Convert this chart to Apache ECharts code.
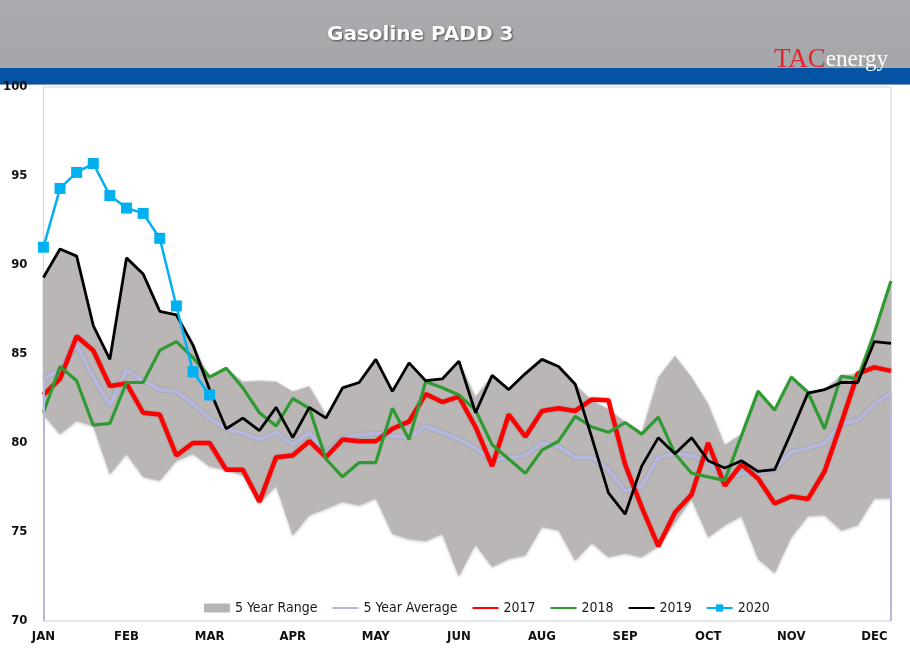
<!DOCTYPE html>
<html>
<head>
<meta charset="utf-8">
<script src="https://cdn.jsdelivr.net/npm/echarts@6/dist/echarts.min.js"></script>
<style>
  html, body { margin: 0; padding: 0; background: #fff; }
  #chart { width: 910px; height: 659px; }
</style>
</head>
<body>
<div id="chart"></div>
<script>
// ---- data ----
const monthLabels = ['JAN','FEB','MAR','APR','MAY','JUN','AUG','SEP','OCT','NOV','DEC'];
const weeks = Array.from({length: 52}, (_, i) => 'W' + (i + 1));

const rangeUpper = [89.3,90.9,90.5,86.6,84.7,90.4,89.5,87.4,87.2,85.5,83.7,84.2,83.45,83.5,83.45,82.9,83.2,81.6,83.1,83.45,
  84.7,82.95,84.5,83.5,83.6,84.6,82.6,83.8,83.0,83.9,84.7,84.3,83.3,82.4,81.9,81.2,80.6,83.7,84.9,83.7,
  82.2,79.9,80.5,83.0,81.9,83.8,82.9,83.0,83.8,83.9,86.2,89.1];
const rangeLower = [81.6,80.5,81.25,80.95,78.25,79.4,78.1,77.9,79.0,79.4,78.7,78.5,78.2,76.6,77.6,74.8,75.95,76.3,76.7,76.5,
  76.9,74.9,74.6,74.5,74.9,72.5,74.3,73.05,73.5,73.7,75.3,75.1,73.4,74.4,73.6,73.8,73.6,74.2,75.5,76.85,
  74.7,75.4,75.9,73.5,72.7,74.7,75.9,75.95,75.1,75.4,76.9,76.9];
const avg5 = [83.6,84.1,85.5,83.7,82.1,84.1,83.5,83.0,82.9,82.2,81.4,80.8,80.55,80.2,80.6,79.9,80.6,79.4,80.3,80.45,
  80.55,80.4,80.3,80.95,80.6,80.2,79.7,79.05,79.15,79.3,80.0,79.8,79.2,79.2,78.5,77.3,77.55,79.2,79.4,79.3,
  78.9,78.0,78.3,78.3,78.5,79.5,79.7,80.0,81.1,81.25,82.2,82.8];
const y2017 = [82.7,83.6,86.0,85.2,83.2,83.35,81.7,81.6,79.3,80.0,80.0,78.5,78.5,76.7,79.2,79.3,80.1,79.2,80.2,80.1,
  80.1,80.8,81.2,82.75,82.3,82.6,80.9,78.7,81.6,80.35,81.8,81.95,81.8,82.45,82.4,78.8,76.4,74.2,76.1,77.1,
  80.0,77.6,78.8,78.0,76.6,77.0,76.85,78.4,81.1,83.9,84.25,84.05];
const y2018 = [81.7,84.3,83.5,81.0,81.1,83.4,83.4,85.2,85.7,84.8,83.7,84.2,83.1,81.7,80.95,82.5,81.95,79.1,78.1,78.9,
  78.9,81.95,80.2,83.45,83.1,82.7,81.85,79.9,79.1,78.3,79.6,80.1,81.5,80.9,80.6,81.15,80.5,81.45,79.4,78.3,
  78.1,77.9,80.4,82.9,81.85,83.7,82.85,80.8,83.75,83.6,86.2,89.1];
const y2019 = [89.3,90.9,90.5,86.6,84.7,90.4,89.5,87.4,87.2,85.5,83.0,80.8,81.4,80.7,82.0,80.3,82.0,81.4,83.1,83.4,
  84.7,82.9,84.5,83.5,83.6,84.6,81.7,83.8,83.0,83.9,84.7,84.3,83.3,80.3,77.2,76.0,78.7,80.3,79.4,80.3,
  79.0,78.6,79.0,78.4,78.5,80.6,82.8,83.0,83.4,83.4,85.7,85.6];
const y2020 = [91.0,94.3,95.2,95.7,93.9,93.2,92.9,91.5,87.7,84.0,82.7];

// ---- chart ----
const rangeSpan = rangeUpper.map((u, i) => +(u - rangeLower[i]).toFixed(2));
const narrow = "'Liberation Sans Narrow', 'Arial Narrow', 'DejaVu Sans Condensed', sans-serif";
const chart = echarts.init(document.getElementById('chart'), null, {renderer: 'canvas'});
const lineOnly = { itemStyle: { opacity: 0 } };

const option = {
  backgroundColor: '#ffffff',
  animation: false,
  graphic: [
    { type: 'rect', left: 0, top: 0, z: -1, shape: { width: 910, height: 68 },
      style: { fill: new echarts.graphic.LinearGradient(0, 0, 0, 1, [
        { offset: 0, color: '#a9abae' }, { offset: 1, color: '#a4a6a9' }]) } },
    { type: 'rect', left: 0, top: 68, z: -1, shape: { width: 910, height: 16 }, style: { fill: '#0553a3' } },
    { type: 'rect', left: 0, top: 84, z: -1, shape: { width: 910, height: 1 }, style: { fill: '#7d97bf' } },
    { type: 'text', left: 327, top: 25, style: {
        text: 'Gasoline PADD 3', fill: '#ffffff', font: "bold 20px 'DejaVu Sans', sans-serif",
        textShadowColor: 'rgba(0,0,0,0.55)', textShadowBlur: 2, textShadowOffsetX: 1, textShadowOffsetY: 1 } },
    { type: 'text', left: 774, top: 46, style: {
        text: '{a|TAC}{b|energy}',
        rich: {
          a: { fill: '#e3262b', font: "27px 'Liberation Serif', serif" },
          b: { fill: '#ffffff', font: "23px 'Liberation Serif', serif" }
        } } }
  ],
  grid: { left: 42, right: 19, top: 87, bottom: 38, show: true, borderColor: '#ccd2de', borderWidth: 1 },
  legend: {
    left: 199, top: 596, itemWidth: 26, itemHeight: 9, itemGap: 14,
    textStyle: { fontFamily: narrow, fontSize: 14, color: '#1a1a1a' },
    data: [
      { name: '5 Year Range', icon: 'rect' },
      Object.assign({ name: '5 Year Average' }, lineOnly),
      Object.assign({ name: '2017' }, lineOnly),
      Object.assign({ name: '2018' }, lineOnly),
      Object.assign({ name: '2019' }, lineOnly),
      { name: '2020' }
    ]
  },
  xAxis: {
    type: 'category', data: weeks, boundaryGap: false,
    axisLine: { show: false }, axisTick: { show: false }, splitLine: { show: false },
    axisLabel: {
      interval: 4, margin: 9,
      formatter: (v, idx) => monthLabels[idx / 5] || '',
      fontFamily: narrow, fontWeight: 'bold', fontSize: 13, color: '#111'
    }
  },
  yAxis: {
    type: 'value', min: 70, max: 100, interval: 5,
    axisLine: { show: false }, axisTick: { show: false }, splitLine: { show: false },
    axisLabel: { margin: 16, fontFamily: narrow, fontWeight: 'bold', fontSize: 13, color: '#111' }
  },
  series: [
    { name: 'rangeBase', type: 'line', stack: 'range', data: rangeLower, symbol: 'none', silent: true,
      lineStyle: { width: 0, opacity: 0 }, z: 1 },
    { name: '5 Year Range', type: 'line', stack: 'range', data: rangeSpan, symbol: 'none', silent: true,
      itemStyle: { color: '#b9b5b5' },
      lineStyle: { width: 1, color: '#d9d6d6' },
      areaStyle: { color: '#bab6b6', opacity: 1, shadowColor: 'rgba(0,0,0,0.25)', shadowBlur: 3, shadowOffsetY: 1 },
      z: 1 },
    { name: '5 Year Average', type: 'line', data: avg5, symbol: 'none',
      itemStyle: { color: '#b6b7dc' },
      lineStyle: { width: 4, color: '#b6b7dc', shadowColor: 'rgba(0,0,0,0.2)', shadowBlur: 2 },
      markLine: { silent: true, symbol: 'none', label: { show: false },
        lineStyle: { color: '#b6b7dc', width: 2, type: 'solid' },
        data: [
          [{ coord: [0, avg5[0]] }, { coord: [0, 70] }],
          [{ coord: [avg5.length - 1, avg5[avg5.length - 1]] }, { coord: [avg5.length - 1, 70] }]
        ] },
      z: 2 },
    { name: '2017', type: 'line', data: y2017, symbol: 'none',
      itemStyle: { color: '#ff0000' },
      lineStyle: { width: 4.5, color: '#ff0000', shadowColor: 'rgba(0,0,0,0.25)', shadowBlur: 2 }, z: 3 },
    { name: '2018', type: 'line', data: y2018, symbol: 'none',
      itemStyle: { color: '#2f9a32' },
      lineStyle: { width: 3.2, color: '#2f9a32' }, z: 3 },
    { name: '2019', type: 'line', data: y2019, symbol: 'none',
      itemStyle: { color: '#000000' },
      lineStyle: { width: 2.8, color: '#000000' }, z: 3 },
    { name: '2020', type: 'line', data: y2020, symbol: 'rect', symbolSize: 11, showSymbol: true, showAllSymbol: true,
      itemStyle: { color: '#00b0f0' },
      lineStyle: { width: 2.5, color: '#00b0f0' }, z: 4 }
  ]
};
chart.setOption(option);
</script>
</body>
</html>
